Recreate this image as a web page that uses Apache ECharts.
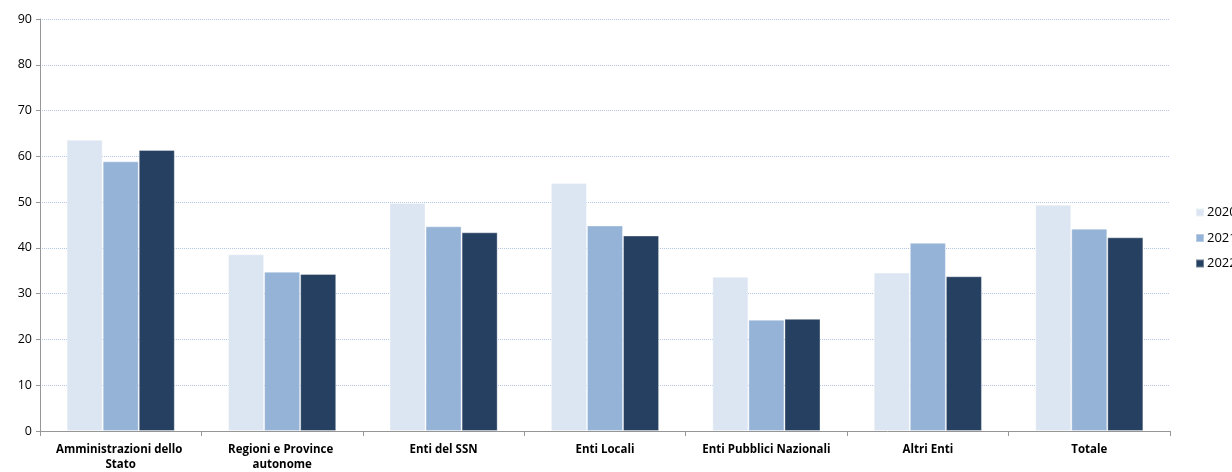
<!DOCTYPE html>
<html>
<head>
<meta charset="utf-8">
<script src="https://cdn.jsdelivr.net/npm/echarts@6/dist/echarts.min.js"></script>
<style>
  html, body { margin: 0; padding: 0; background: #fff; }
  #chart { width: 1232px; height: 472px; }
</style>
</head>
<body>
<div id="chart"></div>
<script>
const categories = [
  'Amministrazioni dello Stato',
  'Regioni e Province autonome',
  'Enti del SSN',
  'Enti Locali',
  'Enti Pubblici Nazionali',
  'Altri Enti',
  'Totale'
];
const years = ['2020', '2021', '2022'];
const values2020 = [63.6, 38.6, 49.8, 54.2, 33.7, 34.6, 49.4];
const values2021 = [58.9, 34.8, 44.7, 44.9, 24.3, 41.1, 44.2];
const values2022 = [61.4, 34.3, 43.4, 42.7, 24.5, 33.8, 42.3];
const colors = ['#DCE6F2', '#95B3D7', '#254061'];

const seriesValues = [values2020, values2021, values2022];
const font = '"Open Sans", "Noto Sans", sans-serif';

const chart = echarts.init(document.getElementById('chart'));
chart.setOption({
  animation: false,
  color: colors,
  grid: { left: 40, right: 62, top: 19, bottom: 36, containLabel: false },
  legend: {
    orient: 'vertical',
    left: 1195,
    top: 206,
    padding: 0,
    itemWidth: 8,
    itemHeight: 8,
    itemGap: 12.5,
    icon: 'rect',
    textStyle: { fontFamily: font, fontSize: 13, color: '#000', padding: [0, 0, 0, -2] },
    data: years
  },
  xAxis: {
    type: 'category',
    data: categories,
    axisLine: { lineStyle: { color: '#969696', width: 1 } },
    axisTick: { show: true, length: 5, lineStyle: { color: '#969696' } },
    axisLabel: {
      fontFamily: font,
      fontWeight: 'bold',
      fontSize: 11.5,
      color: '#000',
      margin: 11,
      width: 145,
      overflow: 'break',
      lineHeight: 15,
      interval: 0
    }
  },
  yAxis: {
    type: 'value',
    min: 0,
    max: 90,
    interval: 10,
    axisLine: { show: true, lineStyle: { color: '#969696', width: 1 } },
    axisTick: { show: true, length: 4, lineStyle: { color: '#969696' } },
    axisLabel: { fontFamily: font, fontSize: 12.5, color: '#000', margin: 8 },
    splitLine: { lineStyle: { color: '#B4C6E7', type: [1, 1], width: 1 } }
  },
  series: years.map((y, i) => ({
    name: y,
    type: 'bar',
    data: seriesValues[i],
    barGap: '0%',
    barCategoryGap: '33%',
    itemStyle: { color: colors[i], borderColor: 'rgba(255,255,255,0.35)', borderWidth: 1 }
  }))
});
</script>
</body>
</html>
